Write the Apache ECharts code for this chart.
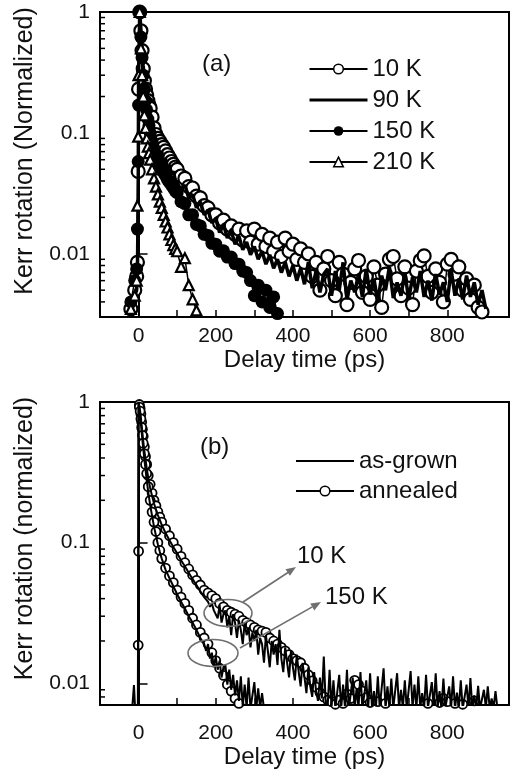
<!DOCTYPE html>
<html><head><meta charset="utf-8">
<script src="https://cdn.jsdelivr.net/npm/echarts@6/dist/echarts.min.js"></script>
<style>html,body{margin:0;padding:0;background:#fff}#c{width:512px;height:770px}</style>
</head><body><div id="c"></div>
<script>
// ---------- Panel (a) ----------
const delayA = [-20,-10,-5,-3,-1,0,3,6,9,12,15,18,21,24,27,30,35,40,45,50,55,60,65,70,75,80,85,90,95,
100,110,120,130,140,150,160,170,180,190,200,210,220,230,240,250,260,270,280,290,300,310,320,330,340,350,360,370,380,390,
400,410,420,430,440,450,460,470,480,490,500,510,520,530,540,550,560,570,580,590,600,610,620,630,640,650,660,670,680,690,
700,710,720,730,740,750,760,770,780,790,800,810,820,830,840,850,860,870,880,890,900];
const kerrA_10K = [0.0035,0.005,0.0065,0.0085,0.048,0.23,1.0,0.7,0.48,0.34,0.27,0.23,0.205,0.185,0.17,0.16,0.135,0.11,0.097,0.09,0.085,0.08,0.076,0.071,0.066,0.062,0.058,0.055,0.052,
0.05,0.044,0.042,0.036,0.035,0.03,0.029,0.025,0.024,0.021,
0.021,0.018,0.019,0.016,0.017,0.0145,0.016,0.013,0.0155,0.0125,
0.016,0.012,0.0145,0.0115,0.0135,0.0105,0.0125,0.0095,0.0135,0.0105,
0.012,0.009,0.011,0.0085,0.01,0.0065,0.0085,0.005,0.0075,0.0095,
0.006,0.0045,0.0085,0.0068,0.0038,0.0058,0.0075,0.0088,0.0048,0.0065,
0.0042,0.0078,0.0055,0.0036,0.0068,0.009,0.0095,0.0062,0.0045,0.0078,
0.0052,0.0038,0.0072,0.0088,0.0096,0.0065,0.0048,0.0075,0.0058,0.004,
0.0082,0.009,0.0068,0.0078,0.005,0.0062,0.0042,0.0055,0.0036,0.0033,0.0028];
const kerrA_90K = [0.003,0.0045,0.005,0.007,0.03,0.3,1.0,0.72,0.5,0.36,0.28,0.23,0.19,0.165,0.15,0.13,0.115,0.098,0.08,0.082,0.066,0.07,0.058,0.061,0.051,0.054,0.046,0.048,0.041,
0.042,0.034,0.037,0.029,0.031,0.024,0.027,0.021,0.023,0.018,
0.0195,0.015,0.0175,0.0135,0.0155,0.012,0.014,0.0108,0.0125,0.0098,
0.0115,0.009,0.0105,0.0082,0.0098,0.0076,0.009,0.007,0.0085,0.0065,
0.008,0.006,0.0076,0.0056,0.0085,0.0052,0.0072,0.0048,0.0068,0.0075,
0.0045,0.0072,0.005,0.0085,0.0042,0.006,0.0048,0.0068,0.0044,0.0075,
0.0046,0.0062,0.004,0.0066,0.005,0.0078,0.0043,0.0058,0.0045,0.007,
0.0042,0.0064,0.0048,0.0072,0.0044,0.006,0.0041,0.0068,0.0046,0.0058,
0.004,0.0074,0.0045,0.0062,0.0042,0.0066,0.0044,0.0058,0.0038,0.005,0.0035];
const kerrA_150K = [0.004,0.006,0.0075,0.016,0.058,0.17,1.0,0.62,0.42,0.3,0.23,0.185,0.155,0.13,0.115,0.1,0.085,0.074,0.066,0.06,0.055,0.051,0.047,0.044,0.041,0.039,0.037,0.035,0.033,
0.032,0.027,0.026,0.021,0.021,0.0175,0.017,0.0145,0.0142,0.0122,
0.012,0.0105,0.0106,0.0094,0.0094,0.0083,0.0082,0.0072,0.007,0.006,
0.0045,0.0055,0.004,0.005,0.0036,0.0044,0.0032];
const kerrA_210K = [0.0035,0.0045,0.006,0.025,0.093,0.3,1.0,0.5,0.3,0.2,0.14,0.11,0.09,0.077,0.068,0.06,0.05,0.042,0.036,0.031,0.027,0.024,0.021,0.0185,0.0165,0.0145,0.013,0.0118,0.011,
0.0105,0.0078,0.0092,0.0055,0.0042,0.0034,0.0029];
const legendA = ['10 K','90 K','150 K','210 K'];

// ---------- Panel (b) ----------
const delayB = [-20,-12,-6,-2,-1,0,2,4,6,8,10,12,15,18,21,25,30,35,40,45,50,55,60,
70,80,90,100,110,120,130,140,150,160,170,180,190,200,210,220,230,240,250,260,270,280,290,300,310,320,330,340,350,360,
370,380,390,400,410,420,430,440,450,460,470,480,490,500,510,520,530,540,550,560,570,580,590,600,610,620,630,640,650,660,
670,680,690,700,710,720,730,740,750,760,770,780,790,800,810,820,830,840,850,860,870,880,890,900,910,920,930];
const annealed_10K = [0.003,0.004,0.005,0.006,0.0187,0.087,0.96,0.9,0.82,0.72,0.64,0.57,0.48,0.41,0.36,0.3,0.26,0.225,0.2,0.183,0.166,0.152,0.14,
0.125,0.112,0.1,0.09,0.08,0.072,0.065,0.059,0.054,0.05,
0.046,0.044,0.042,0.04,0.037,0.035,0.033,0.032,0.031,0.03,
0.028,0.027,0.026,0.025,0.024,0.0235,0.023,0.021,0.02,0.019,
0.018,0.017,0.016,0.015,0.0145,0.014,0.0128,0.0115,0.0104,0.0094,
0.0086,0.008,0.0076,0.0074,0.0071,0.0076,0.0072,0.0084,0.0078,0.0105,
0.0098,0.0088,0.0079,0.0073,0.0069,0.0074,0.0068,0.0072,0.0066,0.0066,
0.0066,0.0063,0.0066,0.0064,0.0066,0.0063,0.0066,0.0064,0.0072,0.0066,
0.0066,0.0073,0.0078,0.0074,0.0066,0.0072,0.0064,0.0071,0.0065,0.0063,
0.0075,0.0064,0.0065,0.0063,0.0064,0.0063,0.0062];
const annealed_150K = [0.003,0.004,0.005,0.006,0.006,0.006,0.92,0.86,0.76,0.66,0.58,0.51,0.43,0.36,0.31,0.25,0.2,0.165,0.14,0.12,0.1,0.088,0.077,
0.066,0.058,0.052,0.046,0.041,0.037,0.033,0.029,0.026,0.023,
0.021,0.019,0.0165,0.0145,0.0128,0.0114,0.0098,0.0088,0.0078,0.0072,
0.0066];
// as-grown traces were sampled more finely
const delayB_fine = [-20,-12,-6,-2,-1,0,2,4,6,8,10,12,15,18,21,25,30,35,40,45,50,55,60,
70,80,90,100,110,120,130,140,150,160,170,
175,180,185,190,195,200,205,210,215,220,225,230,235,240,245,250,255,260,265,270,275,280,285,290,295,
300,305,310,315,320,325,330,335,340,345,350,355,360,365,370,375,380,385,390,395,
400,405,410,415,420,425,430,435,440,445,450,455,460,465,470,475,480,485,490,495,
500,505,510,515,520,525,530,535,540,545,550,555,560,565,570,575,580,585,590,595,
600,605,610,615,620,625,630,635,640,645,650,655,660,665,670,675,680,685,690,695,
700,705,710,715,720,725,730,735,740,745,750,755,760,765,770,775,780,785,790,795,
800,805,810,815,820,825,830,835,840,845,850,855,860,865,870,875,880,885,890,895,
900,905,910,915,920,925,930];
const asGrown_10K = [0.005,0.0097,0.0045,0.005,0.006,1.0,0.93,0.86,0.77,0.68,0.6,0.53,0.45,0.39,0.34,0.29,0.245,0.215,0.19,0.172,0.157,0.145,0.134,
0.117,0.104,0.093,0.084,0.075,0.068,0.061,0.055,0.05,0.045,0.041,
0.04,0.038,0.035,0.037,0.033,
0.034,0.029,0.036,0.027,0.031,0.033,0.025,0.03,0.022,0.031,0.027,0.021,0.028,0.024,0.019,0.027,0.022,0.025,0.018,0.023,
0.02,0.024,0.016,0.021,0.019,0.014,0.022,0.017,0.013,0.02,0.016,0.019,0.0135,0.024,0.015,0.012,0.018,0.014,0.011,0.017,
0.013,0.0105,0.016,0.012,0.0095,0.014,0.011,0.0085,0.013,0.0095,0.008,0.012,0.0088,0.0075,0.011,0.0078,0.0155,0.0072,0.0068,0.0125,
0.0067,0.0105,0.0066,0.0068,0.0115,0.0066,0.0098,0.0067,0.0125,0.0066,0.0068,0.011,0.0066,0.0092,0.0067,0.012,0.0066,0.0068,0.0105,0.0066,
0.0118,0.0067,0.0088,0.0066,0.0112,0.0067,0.0066,0.0128,0.0066,0.0095,0.0067,0.0108,0.0066,0.0068,0.0118,0.0066,0.009,0.0067,0.0105,0.0066,
0.0066,0.0122,0.0067,0.0098,0.0066,0.0112,0.0067,0.0085,0.0066,0.0115,0.0067,0.0066,0.0102,0.0066,0.0118,0.0067,0.0088,0.0066,0.0108,0.0067,
0.0066,0.0095,0.0067,0.0112,0.0066,0.0086,0.0067,0.0105,0.0066,0.0066,0.0098,0.0067,0.0109,0.0066,0.0082,0.0067,0.0096,0.0066,0.0066,0.009,
0.0067,0.0095,0.0066,0.0078,0.0067,0.0088,0.0066];
const asGrown_150K = [0.004,0.004,0.004,0.005,0.005,1.0,0.9,0.8,0.7,0.61,0.53,0.47,0.39,0.33,0.28,0.23,0.185,0.155,0.13,0.112,0.097,0.086,0.077,
0.064,0.056,0.049,0.043,0.038,0.034,0.03,0.027,0.024,0.021,0.019,
0.017,0.019,0.015,0.0165,0.013,0.0155,0.0125,0.0145,0.011,0.013,0.0135,0.0098,0.0125,0.009,0.0115,0.0082,0.0105,0.0075,0.0112,0.0068,0.0098,0.0067,0.011,0.0066,0.0068,
0.0102,0.0066,0.0092,0.0067,0.0085,0.0066,0.0065];
const legendB = ['as-grown','annealed'];

// axis tick values
const xLabelsShown = [0,200,400,600,800];
const minorTicksA = [0.004,0.005,0.006,0.007,0.008,0.009,0.02,0.03,0.04,0.05,0.06,0.07,0.08,0.09,0.2,0.3,0.4,0.5,0.6,0.7,0.8,0.9];
const minorTicksB = [0.008,0.009,0.02,0.03,0.04,0.05,0.06,0.07,0.08,0.09,0.2,0.3,0.4,0.5,0.6,0.7,0.8,0.9];

// ---------- build ----------
const FONT = 'Liberation Sans';
const TICK_FS = 21, TEXT_FS = 24, NAME_FS = 25;
const X_MIN = -100, X_MAX = 960;
function pairs(times, vals){ return vals.map((v,i)=>[times[i], v]); }
function xAxis(gi, nameGap, labelMargin){
  return {type:'value', gridIndex:gi, min:X_MIN, max:X_MAX, interval:100,
    name:'Delay time (ps)', nameLocation:'middle', nameGap:nameGap,
    nameTextStyle:{fontFamily:FONT, fontSize:TEXT_FS, color:'#111'},
    axisLine:{lineStyle:{color:'#000', width:2}},
    axisTick:{inside:true, length:7, lineStyle:{color:'#000', width:1.5}},
    axisLabel:{margin:labelMargin, fontFamily:FONT, fontSize:TICK_FS, color:'#111',
      formatter:v=> xLabelsShown.indexOf(v)>=0 ? String(v) : ''},
    splitLine:{show:false}};
}
const decadeLabel = {'0':'1','-1':'0.1','-2':'0.01'};
function yAxis(gi, min, name, shift){
  return {type:'log', logBase:10, gridIndex:gi, min:min, max:1,
    name:name, nameLocation:'middle', nameGap:62,
    nameTextStyle:{fontFamily:FONT, fontSize:NAME_FS, color:'#111', padding:[0,0,0,shift]},
    axisLine:{lineStyle:{color:'#000', width:2}},
    axisTick:{inside:true, length:9, lineStyle:{color:'#000', width:1.5}},
    axisLabel:{margin:10, fontFamily:FONT, fontSize:TICK_FS, color:'#111',
      formatter:v=>{const l=Math.log10(v); const r=Math.round(l); return Math.abs(l-r)<1e-6 && decadeLabel[String(r)] ? decadeLabel[String(r)] : '';}},
    splitLine:{show:false}, minorTick:{show:false}};
}
function minorTickSeries(vals, gi){
  return {type:'custom', xAxisIndex:gi, yAxisIndex:gi, silent:true, clip:false, z:10,
    data: vals.map(v=>[X_MIN, v]), encode:{x:0, y:1},
    renderItem:(params, api)=>{const p = api.coord([api.value(0), api.value(1)]);
      return {type:'line', shape:{x1:p[0], y1:p[1], x2:p[0]+5, y2:p[1]}, style:{stroke:'#000', lineWidth:1.5}};}};
}
const openA = {color:'#fff', borderColor:'#000', borderWidth:2.2};
const openB = {color:'#fff', borderColor:'#000', borderWidth:1.8};
const hidden = {color:'rgba(0,0,0,0)', borderColor:'rgba(0,0,0,0)', borderWidth:0, opacity:0};
const option = {
  animation:false,
  backgroundColor:'#fff',
  color:['#000'],
  grid:[
    {left:100, top:12, width:416, height:305, show:true, borderColor:'#000', borderWidth:2, backgroundColor:'transparent'},
    {left:100, top:402, width:416, height:305, show:true, borderColor:'#000', borderWidth:2, backgroundColor:'transparent'}
  ],
  xAxis:[xAxis(0, 29, 9), xAxis(1, 35, 18)],
  yAxis:[yAxis(0, 0.003, 'Kerr rotation (Normalized)', 27), yAxis(1, 0.007, 'Kerr rotation (normalized)', 30)],
  legend:[
    {left:303, top:52, orient:'vertical', itemWidth:58, itemHeight:12, itemGap:7,
     textStyle:{fontFamily:FONT, fontSize:TEXT_FS, color:'#111'},
     data:[
       {name:legendA[0], itemStyle:{color:'#fff', borderColor:'#000', borderWidth:1.5}},
       {name:legendA[1], itemStyle:hidden, lineStyle:{color:'#000', width:3}},
       {name:legendA[2], itemStyle:{color:'#000', borderColor:'#000'}},
       {name:legendA[3], itemStyle:{color:'#fff', borderColor:'#000', borderWidth:1.5}}
     ]},
    {left:290, top:444, orient:'vertical', itemWidth:58, itemHeight:12, itemGap:6,
     textStyle:{fontFamily:FONT, fontSize:TEXT_FS, color:'#111'},
     data:[
       {name:legendB[0], itemStyle:hidden, lineStyle:{color:'#000', width:2}},
       {name:legendB[1], itemStyle:{color:'#fff', borderColor:'#000', borderWidth:1.5}}
     ]}
  ],
  series:[
    {name:legendA[0], type:'line', color:'#000', xAxisIndex:0, yAxisIndex:0, data:pairs(delayA,kerrA_10K),
     symbol:'circle', symbolSize:13, itemStyle:openA, lineStyle:{color:'#000', width:1.5}, z:2},
    {name:legendA[1], type:'line', color:'#000', xAxisIndex:0, yAxisIndex:0, data:pairs(delayA,kerrA_90K),
     symbol:'none', lineStyle:{color:'#000', width:3.5}, z:3},
    {name:legendA[2], type:'line', color:'#000', xAxisIndex:0, yAxisIndex:0, data:pairs(delayA,kerrA_150K),
     symbol:'circle', symbolSize:13, itemStyle:{color:'#000'}, lineStyle:{color:'#000', width:1.5}, z:4},
    {name:legendA[3], type:'line', color:'#000', xAxisIndex:0, yAxisIndex:0, data:pairs(delayA,kerrA_210K),
     symbol:'triangle', symbolSize:10, itemStyle:openA, lineStyle:{color:'#000', width:1.5}, z:5},
    {name:legendB[1], type:'line', color:'#000', xAxisIndex:1, yAxisIndex:1, data:pairs(delayB,annealed_10K),
     symbol:'circle', symbolSize:9, itemStyle:openB, lineStyle:{color:'#000', width:1.5}, z:2},
    {name:legendB[1], type:'line', color:'#000', xAxisIndex:1, yAxisIndex:1, data:pairs(delayB,annealed_150K),
     symbol:'circle', symbolSize:9, itemStyle:openB, lineStyle:{color:'#000', width:1.5}, z:2},
    {name:legendB[0], type:'line', color:'#000', xAxisIndex:1, yAxisIndex:1, data:pairs(delayB_fine,asGrown_10K),
     symbol:'none', lineStyle:{color:'#000', width:2}, z:3},
    {name:legendB[0], type:'line', color:'#000', xAxisIndex:1, yAxisIndex:1, data:pairs(delayB_fine,asGrown_150K),
     symbol:'none', lineStyle:{color:'#000', width:2}, z:3},
    minorTickSeries(minorTicksA, 0),
    minorTickSeries(minorTicksB, 1)
  ],
  graphic:[
    {type:'text', left:202, top:52, style:{text:'(a)', fontFamily:FONT, fontSize:TEXT_FS, fill:'#111'}},
    {type:'text', left:200, top:435, style:{text:'(b)', fontFamily:FONT, fontSize:TEXT_FS, fill:'#111'}},
    {type:'text', left:297, top:544, style:{text:'10 K', fontFamily:FONT, fontSize:TEXT_FS, fill:'#111'}},
    {type:'text', left:325, top:585, style:{text:'150 K', fontFamily:FONT, fontSize:TEXT_FS, fill:'#111'}},
    {type:'ellipse', shape:{cx:228, cy:613, rx:24, ry:13.5}, style:{fill:'none', stroke:'#6f6f6f', lineWidth:1.6}, z:100},
    {type:'ellipse', shape:{cx:213, cy:653, rx:25, ry:13.5}, style:{fill:'none', stroke:'#6f6f6f', lineWidth:1.6}, z:100},
    {type:'line', shape:{x1:243, y1:602, x2:288, y2:572.5}, style:{stroke:'#6f6f6f', lineWidth:1.6}, z:100},
    {type:'polygon', shape:{points:[[296,567],[289.9,575.8],[285.5,569.2]]}, style:{fill:'#6f6f6f'}, z:100},
    {type:'line', shape:{x1:240, y1:648, x2:312.3, y2:606.9}, style:{stroke:'#6f6f6f', lineWidth:1.6}, z:100},
    {type:'polygon', shape:{points:[[321,602],[314.3,610.4],[310.3,603.4]]}, style:{fill:'#6f6f6f'}, z:100}
  ]
};
const chart = echarts.init(document.getElementById('c'), null, {renderer:'canvas'});
chart.setOption(option);
</script>
</body></html>
